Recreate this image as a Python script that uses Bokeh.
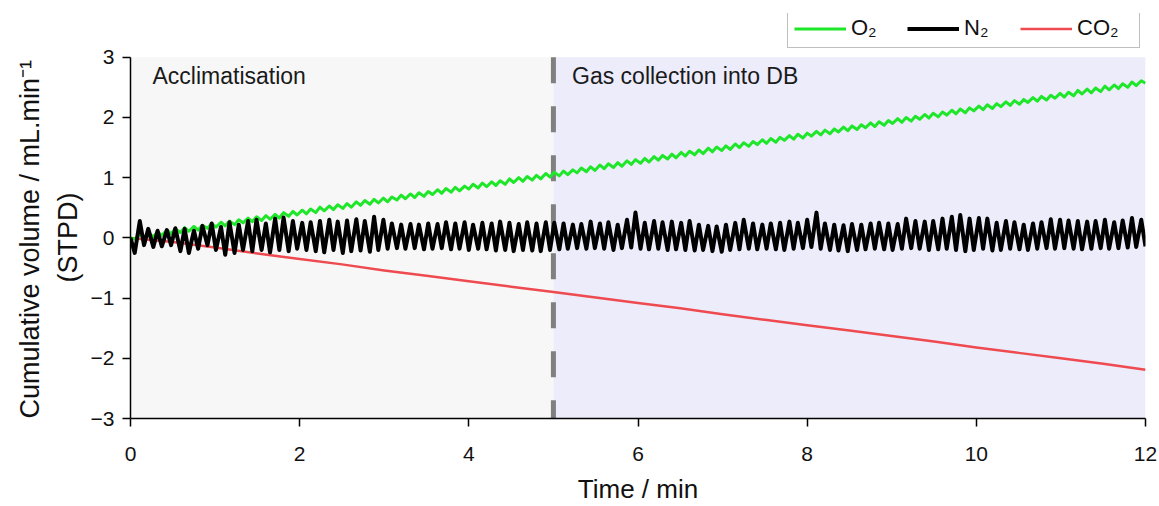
from bokeh.plotting import figure
from bokeh.models import BoxAnnotation, Label, Legend, LegendItem, Range1d, Title
from bokeh.embed import file_html
from bokeh.resources import INLINE

# ---------------- data ----------------
x_range_min = [0, 12]
y_range_min = [-3, 3]
phase_boundary = 5
phase_names = ["Acclimatisation", "Gas collection into DB"]
x_ticks = [0, 2, 4, 6, 8, 10, 12]
y_ticks = [-3, -2, -1, 0, 1, 2, 3]
y_label_lines = ["Cumulative volume / mL.min\u207b\u00b9", "(STPD)"]
x_label = "Time / min"

# times of breath extrema (min)
t_ext = [
    0.00, 0.05, 0.11, 0.16, 0.21, 0.27, 0.32, 0.37, 0.43, 0.48, 0.53, 0.59, 0.64, 0.69, 0.75,
    0.80, 0.85, 0.91, 0.96, 1.01, 1.07, 1.12, 1.17, 1.23, 1.28, 1.33, 1.39, 1.44, 1.49, 1.55,
    1.60, 1.65, 1.71, 1.76, 1.81, 1.87, 1.92, 1.97, 2.03, 2.08, 2.13, 2.19, 2.24, 2.29, 2.35,
    2.40, 2.45, 2.51, 2.56, 2.61, 2.67, 2.72, 2.77, 2.83, 2.88, 2.93, 2.99, 3.04, 3.09, 3.15,
    3.20, 3.25, 3.31, 3.36, 3.41, 3.47, 3.52, 3.57, 3.63, 3.68, 3.73, 3.79, 3.84, 3.89, 3.95,
    4.00, 4.05, 4.11, 4.16, 4.21, 4.27, 4.32, 4.37, 4.43, 4.48, 4.53, 4.59, 4.64, 4.69, 4.75,
    4.80, 4.85, 4.91, 4.96, 5.01, 5.07, 5.12, 5.17, 5.23, 5.28, 5.33, 5.39, 5.44, 5.49, 5.55,
    5.60, 5.65, 5.71, 5.76, 5.81, 5.87, 5.92, 5.97, 6.03, 6.08, 6.13, 6.19, 6.24, 6.29, 6.35,
    6.40, 6.45, 6.51, 6.56, 6.61, 6.67, 6.72, 6.77, 6.83, 6.88, 6.93, 6.99, 7.04, 7.09, 7.15,
    7.20, 7.25, 7.31, 7.36, 7.41, 7.47, 7.52, 7.57, 7.63, 7.68, 7.73, 7.79, 7.84, 7.89, 7.95,
    8.00, 8.05, 8.11, 8.16, 8.21, 8.27, 8.32, 8.37, 8.43, 8.48, 8.53, 8.59, 8.64, 8.69, 8.75,
    8.80, 8.85, 8.91, 8.96, 9.01, 9.07, 9.12, 9.17, 9.23, 9.28, 9.33, 9.39, 9.44, 9.49, 9.55,
    9.60, 9.65, 9.71, 9.76, 9.81, 9.87, 9.92, 9.97, 10.03, 10.08, 10.13, 10.19, 10.24, 10.29, 10.35,
    10.40, 10.45, 10.51, 10.56, 10.61, 10.67, 10.72, 10.77, 10.83, 10.88, 10.93, 10.99, 11.04, 11.09, 11.15,
    11.20, 11.25, 11.31, 11.36, 11.41, 11.47, 11.52, 11.57, 11.63, 11.68, 11.73, 11.79, 11.84, 11.89, 11.95,
    12.00,
]

n2 = [
    0.00, -0.25, 0.28, -0.12, 0.15, -0.15, 0.12, -0.14, 0.13, -0.12, 0.16, -0.22, 0.15, -0.25, 0.12,
    -0.18, 0.20, -0.12, 0.24, -0.20, 0.18, -0.28, 0.26, -0.25, 0.22, -0.20, 0.28, -0.22, 0.30, -0.20,
    0.24, -0.24, 0.32, -0.20, 0.34, -0.22, 0.28, -0.18, 0.25, -0.20, 0.26, -0.22, 0.28, -0.24, 0.30,
    -0.20, 0.27, -0.25, 0.29, -0.22, 0.31, -0.21, 0.28, -0.23, 0.35, -0.20, 0.30, -0.18, 0.24, -0.17,
    0.22, -0.18, 0.23, -0.17, 0.22, -0.19, 0.24, -0.18, 0.23, -0.17, 0.26, -0.19, 0.24, -0.18, 0.26,
    -0.20, 0.22, -0.18, 0.25, -0.19, 0.24, -0.21, 0.27, -0.20, 0.25, -0.22, 0.23, -0.20, 0.26, -0.21,
    0.24, -0.22, 0.26, -0.20, 0.25, -0.19, 0.24, -0.18, 0.22, -0.17, 0.23, -0.18, 0.27, -0.17, 0.24,
    -0.18, 0.26, -0.20, 0.22, -0.17, 0.30, -0.16, 0.42, -0.18, 0.25, -0.19, 0.28, -0.18, 0.26, -0.20,
    0.27, -0.19, 0.25, -0.20, 0.28, -0.21, 0.22, -0.20, 0.20, -0.22, 0.19, -0.23, 0.22, -0.20, 0.25,
    -0.19, 0.30, -0.18, 0.24, -0.19, 0.22, -0.18, 0.24, -0.19, 0.25, -0.20, 0.27, -0.18, 0.25, -0.17,
    0.30, -0.15, 0.42, -0.18, 0.24, -0.20, 0.22, -0.21, 0.21, -0.22, 0.23, -0.20, 0.22, -0.19, 0.24,
    -0.18, 0.25, -0.19, 0.24, -0.20, 0.23, -0.18, 0.32, -0.17, 0.28, -0.18, 0.27, -0.20, 0.28, -0.19,
    0.32, -0.18, 0.35, -0.20, 0.38, -0.22, 0.32, -0.20, 0.33, -0.18, 0.32, -0.21, 0.25, -0.20, 0.28,
    -0.18, 0.26, -0.19, 0.22, -0.20, 0.24, -0.18, 0.26, -0.17, 0.31, -0.18, 0.30, -0.17, 0.29, -0.18,
    0.28, -0.19, 0.27, -0.18, 0.28, -0.17, 0.30, -0.18, 0.26, -0.17, 0.29, -0.16, 0.33, -0.15, 0.30,
    -0.14,
]

o2 = [
    0.00, -0.02, 0.06, 0.00, 0.08, 0.02, 0.10, 0.04, 0.13, 0.07, 0.15, 0.09, 0.17, 0.11, 0.19,
    0.13, 0.21, 0.16, 0.24, 0.18, 0.26, 0.20, 0.28, 0.22, 0.30, 0.25, 0.33, 0.27, 0.35, 0.29,
    0.37, 0.31, 0.39, 0.33, 0.42, 0.36, 0.44, 0.38, 0.46, 0.40, 0.48, 0.42, 0.51, 0.45, 0.53,
    0.47, 0.55, 0.49, 0.57, 0.51, 0.60, 0.54, 0.62, 0.56, 0.64, 0.58, 0.66, 0.60, 0.68, 0.63,
    0.71, 0.65, 0.73, 0.67, 0.75, 0.69, 0.77, 0.72, 0.80, 0.74, 0.82, 0.76, 0.84, 0.78, 0.86,
    0.81, 0.89, 0.83, 0.91, 0.85, 0.93, 0.87, 0.95, 0.89, 0.98, 0.92, 1.00, 0.94, 1.02, 0.96,
    1.04, 0.98, 1.07, 1.01, 1.09, 1.03, 1.11, 1.05, 1.13, 1.08, 1.16, 1.10, 1.18, 1.12, 1.21,
    1.15, 1.23, 1.17, 1.25, 1.19, 1.28, 1.22, 1.30, 1.24, 1.32, 1.26, 1.35, 1.29, 1.37, 1.31,
    1.39, 1.33, 1.42, 1.36, 1.44, 1.38, 1.46, 1.40, 1.49, 1.43, 1.51, 1.45, 1.53, 1.47, 1.56,
    1.50, 1.58, 1.52, 1.60, 1.55, 1.63, 1.57, 1.65, 1.59, 1.67, 1.62, 1.70, 1.64, 1.72, 1.66,
    1.74, 1.69, 1.77, 1.71, 1.79, 1.73, 1.81, 1.76, 1.84, 1.78, 1.86, 1.80, 1.88, 1.83, 1.91,
    1.85, 1.93, 1.87, 1.95, 1.90, 1.98, 1.92, 2.00, 1.94, 2.02, 1.97, 2.05, 1.99, 2.07, 2.01,
    2.09, 2.04, 2.12, 2.06, 2.14, 2.08, 2.16, 2.11, 2.19, 2.13, 2.21, 2.15, 2.23, 2.18, 2.26,
    2.20, 2.28, 2.22, 2.30, 2.25, 2.33, 2.27, 2.35, 2.29, 2.37, 2.32, 2.40, 2.34, 2.42, 2.36,
    2.45, 2.39, 2.47, 2.41, 2.49, 2.43, 2.52, 2.46, 2.54, 2.48, 2.56, 2.50, 2.59, 2.53, 2.61,
    2.57,
]

t_co2 = [0, 0.5, 1, 1.5, 2, 2.5, 3, 3.5, 4, 4.5, 5, 5.5, 6, 6.5, 7, 7.5, 8, 8.5, 9, 9.5,
         10, 10.5, 11, 11.5, 12]
co2 = [0.00, -0.07, -0.16, -0.26, -0.35, -0.44, -0.54, -0.63, -0.72, -0.81, -0.90, -0.99,
       -1.08, -1.17, -1.27, -1.36, -1.45, -1.54, -1.63, -1.72, -1.82, -1.91, -2.00, -2.09, -2.19]

series_labels = ["O\u2082", "N\u2082", "CO\u2082"]

# ---------------- figure ----------------
FONT = "Liberation Sans"
FRAME_TOP_PAD = 44 / 60.5   # extra room above y=3 (in data units) to hold the legend

p = figure(width=1159, height=506, output_backend="svg", toolbar_location=None,
           x_range=Range1d(*x_range_min),
           y_range=Range1d(y_range_min[0], y_range_min[1] + FRAME_TOP_PAD),
           min_border_left=130, min_border_right=14, min_border_top=13, min_border_bottom=86)
p.outline_line_color = None
p.background_fill_color = "white"
p.border_fill_color = "white"
p.xgrid.visible = False
p.ygrid.visible = False

# phase shading
p.add_layout(BoxAnnotation(right=phase_boundary, top=y_range_min[1], fill_color="#f7f7f7",
                           fill_alpha=1.0, line_color=None, level="underlay"))
p.add_layout(BoxAnnotation(left=phase_boundary, top=y_range_min[1], fill_color="#ececfa",
                           fill_alpha=1.0, line_color=None, level="underlay"))

# dashed boundary line
p.line([phase_boundary, phase_boundary], [y_range_min[1], y_range_min[0]],
       line_color="#808080", line_width=5, line_dash="26 23")

r_co2 = p.line(t_co2, co2, line_color="#ee4a4f", line_width=2.5, line_join="round")
r_o2 = p.line(t_ext, o2, line_color="#1ee628", line_width=3, line_join="round")
r_n2 = p.line(t_ext, n2, line_color="#000000", line_width=4, line_join="round")

# phase labels
p.add_layout(Label(x=0.26, y=2.69, text=phase_names[0], text_font=FONT,
                   text_font_size="23px", text_color="#1a1a1a", text_baseline="middle"))
p.add_layout(Label(x=5.22, y=2.69, text=phase_names[1], text_font=FONT,
                   text_font_size="23px", text_color="#1a1a1a", text_baseline="middle"))

# axes
for ax in (p.xaxis, p.yaxis):
    ax.axis_line_color = "black"
    ax.axis_line_width = 1.5
    ax.major_tick_line_color = "black"
    ax.minor_tick_line_color = "black"
    ax.major_tick_line_width = 1.5
    ax.minor_tick_line_width = 1.5
    ax.major_tick_out = 8
    ax.major_tick_in = 0
    ax.minor_tick_out = 5
    ax.minor_tick_in = 0
    ax.major_label_text_font = FONT
    ax.major_label_text_font_size = "21px"
    ax.major_label_text_color = "#111111"
    ax.axis_label_text_font = FONT
    ax.axis_label_text_font_size = "26px"
    ax.axis_label_text_font_style = "normal"
    ax.axis_label_text_color = "#111111"

p.yaxis.bounds = tuple(y_range_min)
p.xaxis.ticker = x_ticks
p.yaxis.ticker = y_ticks
p.xaxis.ticker.num_minor_ticks = 2
p.yaxis.ticker.num_minor_ticks = 2
p.yaxis.major_label_overrides = {v: (str(v) if v >= 0 else "\u2212" + str(-v)) for v in y_ticks}
p.xaxis.axis_label = x_label
p.xaxis.major_label_standoff = 20
p.yaxis.major_label_standoff = 8
p.xaxis.axis_label_standoff = 10

# y-axis title: two separate lines, placed in the left panel
t2 = Title(text=y_label_lines[1], align="left", offset=136, text_font=FONT,
           text_font_size="27px", text_font_style="normal", text_color="#111111", standoff=10)
t1 = Title(text=y_label_lines[0], align="left", offset=0, text_font=FONT,
           text_font_size="27px", text_font_style="normal", text_color="#111111", standoff=2)
p.add_layout(t2, "left")
p.add_layout(t1, "left")

# legend
legend = Legend(items=[LegendItem(label=series_labels[0], renderers=[r_o2]),
                       LegendItem(label=series_labels[1], renderers=[r_n2]),
                       LegendItem(label=series_labels[2], renderers=[r_co2])],
                orientation="horizontal", location=(657, 370))
legend.label_text_font = FONT
legend.label_text_font_size = "22px"
legend.label_text_color = "#111111"
legend.glyph_width = 52
legend.glyph_height = 25
legend.label_standoff = 5
legend.label_width = 56
legend.spacing = 0
legend.padding = 6
legend.margin = 0
legend.border_line_color = "#7f7f7f"
legend.border_line_width = 1.5
legend.background_fill_color = "white"
legend.background_fill_alpha = 1.0
p.add_layout(legend, "center")

open("out.html", "w").write(file_html(p, INLINE))
